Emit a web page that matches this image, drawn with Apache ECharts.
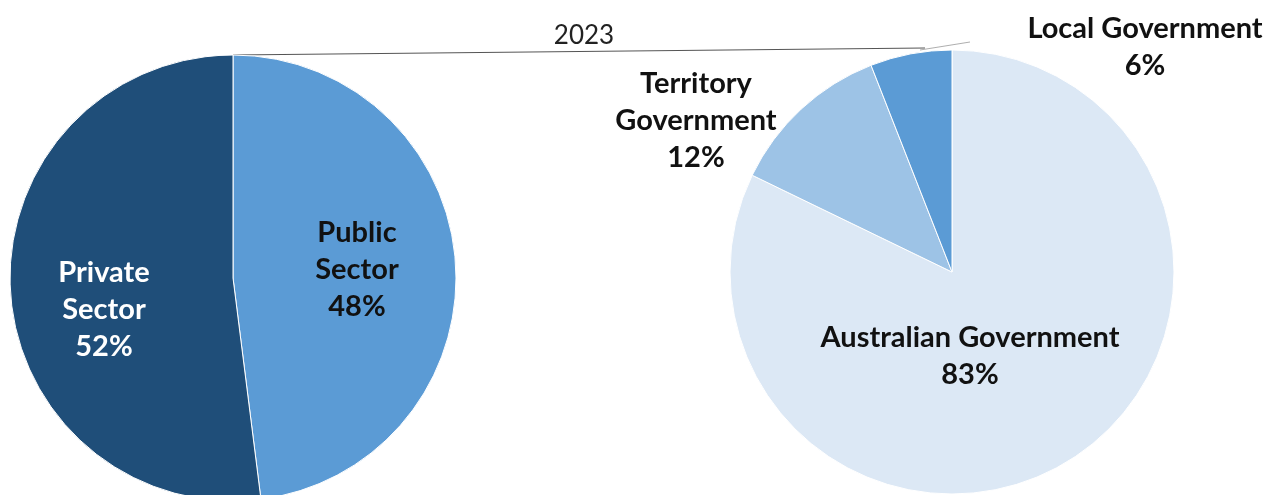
<!DOCTYPE html>
<html>
<head>
<meta charset="utf-8">
<script src="https://cdn.jsdelivr.net/npm/echarts@6/dist/echarts.min.js"></script>
<style>
    html, body { margin: 0; padding: 0; background: #fff; }
    #chart { width: 1264px; height: 495px; }
</style>
</head>
<body>
<div id="chart"></div>
<script>
    // 数据
    const sectorNames = ['Public Sector', 'Private Sector']
    const sectorValues = [48, 52]
    const govNames = ['Australian Government', 'Territory Government', 'Local Government']
    const govValues = [83, 12, 6]
    const yearLabel = '2023'

    // 标签换行
    const sectorLabels = ['Public\nSector', 'Private\nSector']
    const govLabels = ['Australian Government', 'Territory\nGovernment', 'Local Government']

    // 标签位置（像素）
    const sectorLabelPos = [[357, 270], [104, 310]]
    const govLabelPos = [[970, 356], [696, 121], [1145, 47]]

    const font = 'Lato, "Open Sans", sans-serif'

    let chart = echarts.init(document.getElementById('chart'))

    function labelStyle(color) {
        return {
            show: true,
            fontFamily: font,
            fontWeight: 'bold',
            fontSize: 29,
            lineHeight: 37,
            color: color,
            align: 'center'
        }
    }

    chart.setOption({
        animation: false,
        title: {
            text: yearLabel,
            left: 579,
            top: 18,
            textAlign: 'center',
            textStyle: { fontFamily: font, fontWeight: 'normal', fontSize: 26, color: '#222' }
        },
        graphic: [
            { type: 'line', shape: { x1: 233, y1: 55, x2: 925, y2: 48 }, style: { stroke: '#555', lineWidth: 1.2 } },
            { type: 'line', shape: { x1: 920, y1: 50, x2: 970, y2: 42 }, style: { stroke: '#999', lineWidth: 0.8 } }
        ],
        series: [
            {
                type: 'pie',
                center: [233, 278],
                radius: 223,
                startAngle: 90,
                clockwise: true,
                itemStyle: { borderColor: '#fff', borderWidth: 1 },
                label: { position: 'inside' },
                labelLine: { show: false },
                labelLayout: function (p) {
                    return { x: sectorLabelPos[p.dataIndex][0], y: sectorLabelPos[p.dataIndex][1], align: 'center', verticalAlign: 'middle' }
                },
                data: sectorNames.map((n, i) => ({
                    name: n,
                    value: sectorValues[i],
                    itemStyle: { color: ['#5B9BD5', '#1F4E79'][i] },
                    label: Object.assign(labelStyle(i === 1 ? '#fff' : '#111'), {
                        formatter: sectorLabels[i] + '\n' + sectorValues[i] + '%'
                    })
                }))
            },
            {
                type: 'pie',
                center: [952, 272],
                radius: 222,
                startAngle: 90,
                clockwise: true,
                itemStyle: { borderColor: '#fff', borderWidth: 1 },
                label: { position: 'inside' },
                labelLine: { show: false },
                labelLayout: function (p) {
                    return { x: govLabelPos[p.dataIndex][0], y: govLabelPos[p.dataIndex][1], align: 'center', verticalAlign: 'middle' }
                },
                data: govNames.map((n, i) => ({
                    name: n,
                    value: govValues[i],
                    itemStyle: { color: ['#DCE8F5', '#9DC3E6', '#5B9BD5'][i] },
                    label: Object.assign(labelStyle('#111'), {
                        formatter: govLabels[i] + '\n' + govValues[i] + '%'
                    })
                }))
            }
        ]
    })
</script>
</body>
</html>
